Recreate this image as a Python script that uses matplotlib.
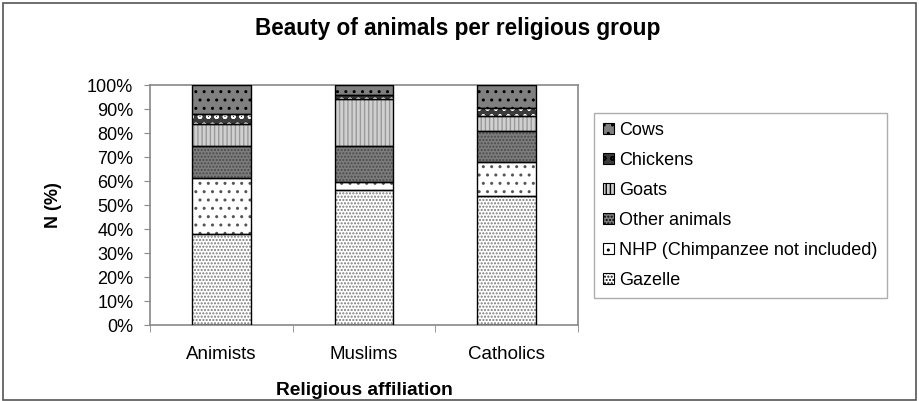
import matplotlib
matplotlib.use("Agg")
import matplotlib.pyplot as plt
from matplotlib.patches import Rectangle, Patch
import numpy as np

plt.rcParams['font.family'] = ['Liberation Sans', 'DejaVu Sans']
plt.rcParams['hatch.linewidth'] = 1.0

groups = ["Animists", "Muslims", "Catholics"]
animals = ["Gazelle", "NHP (Chimpanzee not included)", "Other animals",
           "Goats", "Chickens", "Cows"]
gazelle = [38.0, 56.3, 53.9]
nhp = [23.3, 3.2, 14.0]
other_animals = [13.3, 15.2, 12.8]
goats = [9.1, 19.3, 6.3]
chickens = [4.2, 1.8, 3.5]
cows = [12.1, 4.2, 9.5]
yticks = [0, 10, 20, 30, 40, 50, 60, 70, 80, 90, 100]

series = [gazelle, nhp, other_animals, goats, chickens, cows]
# fill colour, hatch pattern, hatch colour per animal
styles = [
    ("white", ".....", "#7a7a7a"),
    ("white", "..", "#555555"),
    ("#7d7d7d", ".....", "#4a4a4a"),
    ("#d0d0d0", "||||", "#9a9a9a"),
    ("#3a3a3a", "oo", "white"),
    ("#808080", "..", "black"),
]

fig = plt.figure(figsize=(9.19, 4.01), dpi=100)
fig.patches.append(Rectangle((0.003, 0.003), 0.994, 0.99, transform=fig.transFigure,
                             fill=False, edgecolor="#555555", lw=1.2))
ax = fig.add_axes([150 / 919, 1 - 325 / 401, 428 / 919, 240 / 401])

x = np.arange(len(groups))
width = 0.41
totals = np.array([sum(v) for v in zip(*series)])
bottom = np.zeros(len(groups))
for vals, (fc, hatch, hc) in zip(series, styles):
    v = np.array(vals) / totals * 100
    ax.bar(x, v, width, bottom=bottom, color=fc, edgecolor="none", zorder=2)
    ax.bar(x, v, width, bottom=bottom, color="none", edgecolor=hc, hatch=hatch,
           linewidth=0, zorder=3)
    ax.bar(x, v, width, bottom=bottom, color="none", edgecolor="black",
           linewidth=1.0, zorder=4)
    bottom += v

ax.set_xlim(-0.5, 2.5)
ax.set_ylim(0, 100)
ax.set_yticks(yticks)
ax.set_yticklabels([f"{t}%" for t in yticks])
ax.set_xticks(x)
ax.set_xticklabels(groups)
ax.set_xticks([-0.5, 0.5, 1.5, 2.5], minor=True)
ax.tick_params(axis="x", which="major", length=0, pad=15, labelsize=13.5)
ax.tick_params(axis="x", which="minor", length=5, color="#888888")
ax.tick_params(axis="y", length=4, color="#888888", labelsize=13, pad=8)
for s in ax.spines.values():
    s.set_color("#888888")
    s.set_linewidth(1.2)

ax.set_xlabel("Religious affiliation", fontsize=13.8, fontweight="bold", labelpad=14)
ax.set_ylabel("N (%)", fontsize=13, fontweight="bold", labelpad=18)
fig.text(458 / 919, 1 - 28 / 401, "Beauty of animals per religious group",
         ha="center", va="center", fontsize=16.3, fontweight="bold")

handles = []
for name, (fc, hatch, hc) in zip(animals, styles):
    handles.append(Patch(facecolor=fc, edgecolor="black", hatch=hatch, lw=0.8))
leg = fig.legend(handles[::-1], animals[::-1], loc="upper left",
                 bbox_to_anchor=(594 / 919, 1 - 113 / 401),
                 frameon=True, fancybox=False, fontsize=13,
                 handlelength=0.6, handleheight=0.6, handletextpad=0.3,
                 labelspacing=0.72, borderpad=0.5, borderaxespad=0)
leg.get_frame().set_edgecolor("#999999")
leg.get_frame().set_linewidth(1.0)

fig.savefig("out.png", dpi=100)
